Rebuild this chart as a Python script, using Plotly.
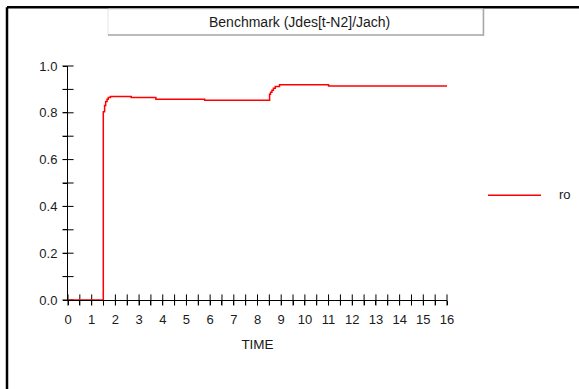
import numpy as np
import plotly.graph_objects as go

# ---- data ----
time = [0.0, 1.49, 1.545, 1.59, 1.65, 1.70, 1.79, 2.67, 3.71, 5.77,
        8.51, 8.55, 8.61, 8.67, 8.75, 8.93, 11.0, 16.0]
ro = [0.0, 0.805, 0.831, 0.848, 0.858, 0.865, 0.870, 0.865, 0.858, 0.854,
      0.879, 0.888, 0.896, 0.905, 0.912, 0.920, 0.915, 0.915]
series_name = "ro"
title_text = "Benchmark (Jdes[t-N2]/Jach)"
x_title = "TIME"
x_range = [0, 16]
y_range = [0, 1.0]
x_minor = 0.5
y_minor = 0.1

W, H = 579, 389
L, R, T, B = 68, 447, 66, 300.5   # plot area in pixels
pw, ph = R - L, B - T

def px(x):
    return (x - L) / pw

def py(y):
    return (B - y) / ph

FONT = "Liberation Sans, Arial, sans-serif"
TXT = "#1a1a1a"

fig = go.Figure()

# crossing tick marks (upper / right half of each tick)
xt = np.arange(x_range[0], x_range[1] + 1e-9, x_minor)
yt = np.arange(y_range[0], y_range[1] + 1e-9, y_minor)
fig.add_trace(go.Scatter(x=xt, y=[y_range[0]] * len(xt), mode="markers",
                         marker=dict(symbol="line-ns-open", size=8, color="black",
                                     line=dict(color="black", width=1)),
                         hoverinfo="skip", showlegend=False, cliponaxis=False))
fig.add_trace(go.Scatter(x=[x_range[0]] * len(yt), y=yt, mode="markers",
                         marker=dict(symbol="line-ew-open", size=8, color="black",
                                     line=dict(color="black", width=1)),
                         hoverinfo="skip", showlegend=False, cliponaxis=False))

fig.add_trace(go.Scatter(x=time, y=ro, mode="lines", line_shape="hv",
                         line=dict(color="#ff0000", width=1.5),
                         name=series_name, showlegend=False, cliponaxis=False))

axis_common = dict(showgrid=False, zeroline=False, showline=True,
                   linecolor="#000000", linewidth=1, tickcolor="#000000",
                   tickwidth=1, ticklen=4, ticks="outside",
                   ticklabelstandoff=3,
                   tickfont=dict(family=FONT, size=13, color=TXT))

fig.update_layout(
    width=W, height=H,
    margin=dict(l=L, r=W - R, t=T, b=H - B, pad=0),
    paper_bgcolor="white", plot_bgcolor="white",
    showlegend=False,
    xaxis=dict(range=x_range, dtick=1, tick0=0,
               minor=dict(dtick=x_minor, ticks="outside", ticklen=4, tickcolor="#000000"),
               title=dict(text=x_title, font=dict(family=FONT, size=13.5, color=TXT), standoff=13),
               **axis_common),
    yaxis=dict(range=y_range, dtick=0.2, tick0=0, tickformat=".1f",
               minor=dict(dtick=y_minor, ticks="outside", ticklen=4, tickcolor="#000000"),
               **axis_common),
)

shapes = []
# outer black frame (left and top edges visible)
shapes.append(dict(type="line", xref="paper", yref="paper",
                   x0=px(7), x1=px(W + 5), y0=py(7), y1=py(7),
                   line=dict(color="black", width=2.5)))
shapes.append(dict(type="line", xref="paper", yref="paper",
                   x0=px(7), x1=px(7), y0=py(7), y1=py(H + 5),
                   line=dict(color="black", width=2.5)))
# title box
shapes.append(dict(type="rect", xref="paper", yref="paper",
                   x0=px(108), x1=px(483), y0=py(9), y1=py(35),
                   fillcolor="white", line=dict(color="#e4e4e4", width=1)))
shapes.append(dict(type="line", xref="paper", yref="paper",
                   x0=px(108), x1=px(484), y0=py(35), y1=py(35),
                   line=dict(color="#a8a8a8", width=1.5)))
shapes.append(dict(type="line", xref="paper", yref="paper",
                   x0=px(483.5), x1=px(483.5), y0=py(9), y1=py(35.5),
                   line=dict(color="#a8a8a8", width=1.5)))
# legend sample line
shapes.append(dict(type="line", xref="paper", yref="paper",
                   x0=px(488), x1=px(541), y0=py(195.5), y1=py(195.5),
                   line=dict(color="#ff0000", width=1.5)))
fig.update_layout(shapes=shapes)

fig.add_annotation(text=title_text, xref="paper", yref="paper",
                   x=px(299), y=py(21.5), showarrow=False,
                   xanchor="center", yanchor="middle",
                   font=dict(family=FONT, size=14, color=TXT))
fig.add_annotation(text=series_name, xref="paper", yref="paper",
                   x=px(557), y=py(195), showarrow=False,
                   xanchor="left", yanchor="middle",
                   font=dict(family=FONT, size=13, color=TXT))

fig.write_html("out.html")
